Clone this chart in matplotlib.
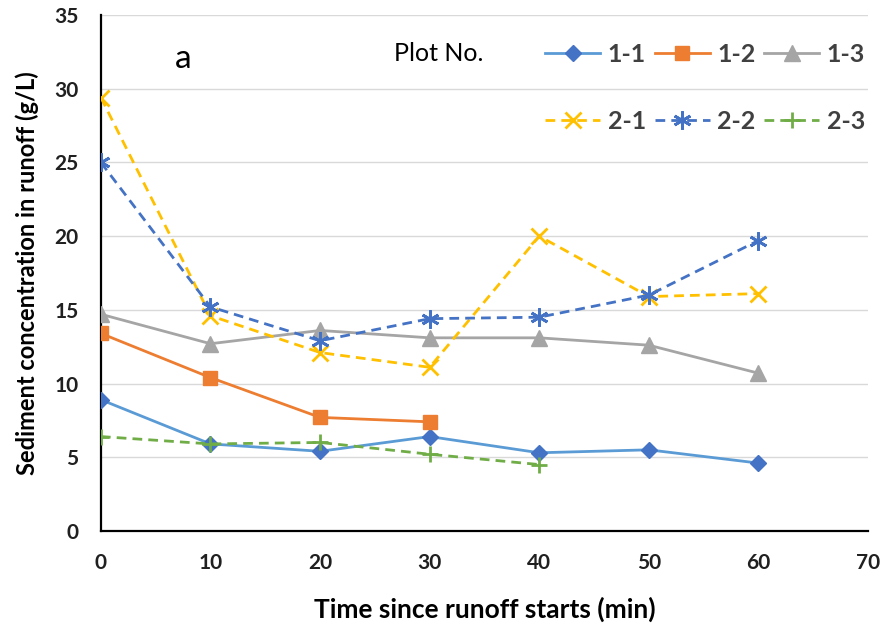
import matplotlib
matplotlib.use("Agg")
import matplotlib.pyplot as plt

plt.rcParams['font.family'] = ['Lato', 'DejaVu Sans']

time = [0, 10, 20, 30, 40, 50, 60]
s11 = [8.9, 5.9, 5.4, 6.4, 5.3, 5.5, 4.6]
s12 = [13.4, 10.4, 7.7, 7.4]
s13 = [14.7, 12.7, 13.6, 13.1, 13.1, 12.6, 10.7]
s21 = [29.4, 14.6, 12.1, 11.1, 20.0, 15.9, 16.1]
s22 = [25.0, 15.2, 12.9, 14.4, 14.5, 16.0, 19.7]
s23 = [6.4, 5.9, 6.0, 5.2, 4.5]

labels = ['1-1', '1-2', '1-3', '2-1', '2-2', '2-3']
xticks = [0, 10, 20, 30, 40, 50, 60, 70]
yticks = [0, 5, 10, 15, 20, 25, 30, 35]

fig = plt.figure(figsize=(8.93, 6.29), dpi=100)
ax = fig.add_axes([0.113, 0.156, 0.859, 0.820])

lw = 2.0
dash = (3.5, 2.2)
ax.plot(time[:len(s11)], s11, color='#5B9BD5', lw=lw, marker='D', ms=8.5,
        mfc='#4472C4', mec='#4472C4', label=labels[0], zorder=3)
ax.plot(time[:len(s12)], s12, color='#ED7D31', lw=lw, marker='s', ms=10,
        mfc='#ED7D31', mec='#ED7D31', label=labels[1], zorder=3)
ax.plot(time[:len(s13)], s13, color='#A5A5A5', lw=lw, marker='^', ms=11,
        mfc='#A5A5A5', mec='#A5A5A5', label=labels[2], zorder=3)
ax.plot(time[:len(s21)], s21, color='#FFC000', lw=lw, ls=(0, dash), marker='x', ms=11,
        mew=2, mec='#FFC000', label=labels[3], zorder=3)
ax.plot(time[:len(s22)], s22, color='#4472C4', lw=lw, ls=(0, dash), marker=(6, 2, 0), ms=13,
        mew=2, mec='#4472C4', label=labels[4], zorder=3)
ax.plot(time[:len(s23)], s23, color='#70AD47', lw=lw, ls=(0, dash), marker='+', ms=11,
        mew=2, mec='#70AD47', label=labels[5], zorder=3)

ax.set_xlim(0, 70)
ax.set_ylim(0, 35)
ax.set_xticks(xticks)
ax.set_yticks(yticks)
ax.grid(axis='y', color='#D9D9D9', lw=1)
ax.set_axisbelow(True)
for s in ['top', 'right']:
    ax.spines[s].set_visible(False)
for s in ['left', 'bottom']:
    ax.spines[s].set_color('black')
    ax.spines[s].set_linewidth(1.6)
ax.tick_params(length=0, labelsize=15)
for t in ax.get_xticklabels() + ax.get_yticklabels():
    t.set_fontweight('bold')
    t.set_color('#202020')
ax.tick_params(axis='x', pad=16)
ax.tick_params(axis='y', pad=16)

ax.set_xlabel('Time since runoff starts (min)', fontsize=19, fontweight='bold', labelpad=17)
ax.set_ylabel('Sediment concentration in runoff (g/L)', fontsize=17, fontweight='bold', labelpad=11)

ax.text(0.107, 0.915, 'a', transform=ax.transAxes, fontsize=24, va='center', ha='center')
ax.text(0.44, 0.925, 'Plot No.', transform=ax.transAxes, fontsize=18, va='center', ha='center')

h, l = ax.get_legend_handles_labels()
order = [0, 3, 1, 4, 2, 5]
leg = ax.legend([h[i] for i in order], [l[i] for i in order], ncol=3, frameon=False,
                loc='upper left', bbox_to_anchor=(0.55, 0.99), handlelength=2.2,
                columnspacing=0.35, handletextpad=0.3, labelspacing=1.75,
                prop={'weight': 'bold', 'size': 18})
for t in leg.get_texts():
    t.set_color('#404040')

fig.savefig('out.png', dpi=100)
